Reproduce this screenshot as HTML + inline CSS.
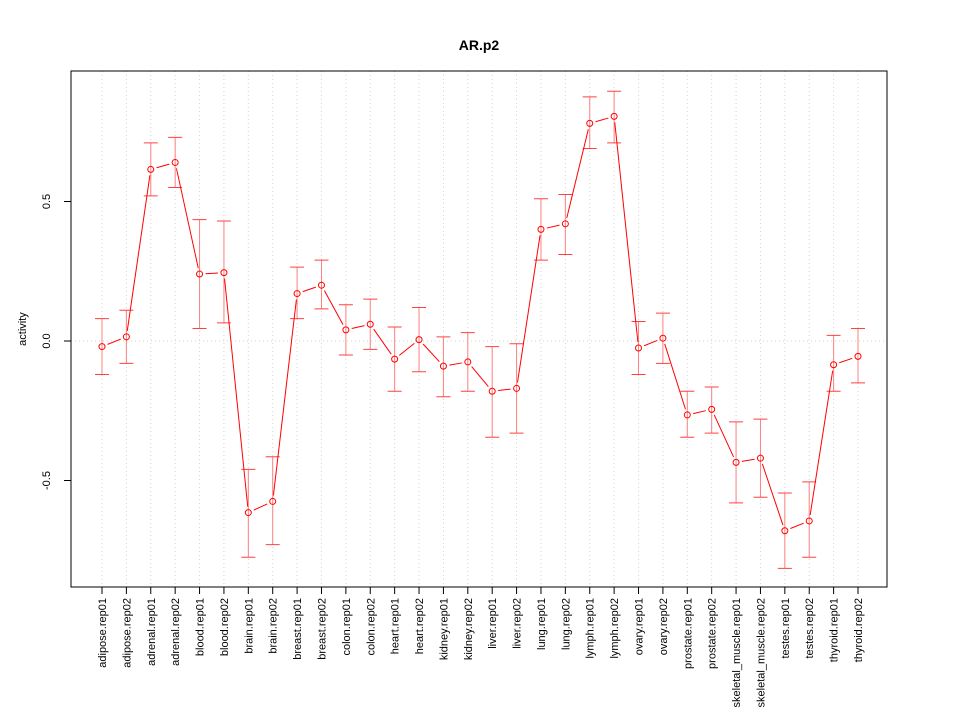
<!DOCTYPE html>
<html><head><meta charset="utf-8"><style>
body{margin:0;background:#fff;font-family:"Liberation Sans",sans-serif}
</style></head><body>
<svg id="chart" width="960" height="720" xmlns="http://www.w3.org/2000/svg">
<rect width="960" height="720" fill="#fff"/>
<text x="479" y="50" text-anchor="middle" font-size="14" font-weight="bold">AR.p2</text>
<text transform="translate(26,329) rotate(-90)" text-anchor="middle" font-size="11">activity</text>
<g id="grid"></g><g id="axes"></g><g id="marks"></g>
<rect x="71" y="71" width="816" height="516" fill="none" stroke="#000"/>
</svg>
<script>
const categories=["adipose.rep01","adipose.rep02","adrenal.rep01","adrenal.rep02","blood.rep01","blood.rep02","brain.rep01","brain.rep02","breast.rep01","breast.rep02","colon.rep01","colon.rep02","heart.rep01","heart.rep02","kidney.rep01","kidney.rep02","liver.rep01","liver.rep02","lung.rep01","lung.rep02","lymph.rep01","lymph.rep02","ovary.rep01","ovary.rep02","prostate.rep01","prostate.rep02","skeletal_muscle.rep01","skeletal_muscle.rep02","testes.rep01","testes.rep02","thyroid.rep01","thyroid.rep02"];
const values=[-0.02,0.015,0.615,0.64,0.24,0.245,-0.615,-0.575,0.17,0.2,0.04,0.06,-0.065,0.005,-0.09,-0.075,-0.18,-0.17,0.4,0.42,0.78,0.805,-0.025,0.01,-0.265,-0.245,-0.435,-0.42,-0.68,-0.645,-0.085,-0.055];
const upper=[0.08,0.11,0.71,0.73,0.435,0.43,-0.46,-0.415,0.265,0.29,0.13,0.15,0.05,0.12,0.015,0.03,-0.02,-0.01,0.51,0.525,0.875,0.895,0.07,0.1,-0.18,-0.165,-0.29,-0.28,-0.545,-0.505,0.02,0.045];
const lower=[-0.12,-0.08,0.52,0.55,0.045,0.065,-0.775,-0.73,0.08,0.115,-0.05,-0.03,-0.18,-0.11,-0.2,-0.18,-0.345,-0.33,0.29,0.31,0.69,0.71,-0.12,-0.08,-0.345,-0.33,-0.58,-0.56,-0.815,-0.775,-0.18,-0.15];
const yTicks=[-0.5,0.0,0.5];
const yTickLabels=["-0.5","0.0","0.5"];
const yGrid=[0.0];
const NS="http://www.w3.org/2000/svg";
const xs=i=>102+i*(858-102)/(categories.length-1);
const ys=v=>341-v*279;
function mk(tag,attrs,parent){const e=document.createElementNS(NS,tag);for(const k in attrs)e.setAttribute(k,attrs[k]);document.getElementById(parent).appendChild(e);return e;}
categories.forEach((c,i)=>{
  const g=mk("line",{x1:xs(i),x2:xs(i),y1:71,y2:587,stroke:"#d3d3d3","stroke-dasharray":"1,3"},"grid");
  
  
  const t=mk("line",{x1:xs(i),x2:xs(i),y1:587,y2:594,stroke:"#000"},"axes");
  
  
  const l=mk("text",{transform:`translate(${xs(i)+4},598) rotate(-90)`,"text-anchor":"end","font-size":"11"},"axes");
  l.textContent=c;
  
  
});
yGrid.forEach(v=>{
  const g=mk("line",{x1:71,x2:887,y1:ys(v),y2:ys(v),stroke:"#d3d3d3","stroke-dasharray":"1,3"},"grid");
  
  
});
yTicks.forEach((v,i)=>{
  const t=mk("line",{x1:64,x2:71,y1:ys(v),y2:ys(v),stroke:"#000"},"axes");
  
  
  const l=mk("text",{transform:`translate(50,${ys(v)}) rotate(-90)`,"text-anchor":"middle","font-size":"11"},"axes");
  l.textContent=yTickLabels[i];
  
  
});
values.forEach((v,i)=>{
  const e=mk("line",{x1:xs(i),x2:xs(i),y1:ys(upper[i]),y2:ys(lower[i]),stroke:"#ff8080"},"marks");
  
  
  const cap=mk("path",{d:`M${xs(i)-7},${ys(upper[i])}H${xs(i)+7}M${xs(i)-7},${ys(lower[i])}H${xs(i)+7}`,stroke:"#ff4040",fill:"none"},"marks");
  
  
});
for(let i=0;i<values.length-1;i++){
  const x1=xs(i),y1=ys(values[i]),x2=xs(i+1),y2=ys(values[i+1]);
  const d=Math.hypot(x2-x1,y2-y1),g=6;
  if(d<=2*g)continue;
  const ux=(x2-x1)/d,uy=(y2-y1)/d;
  const s=mk("line",{x1:x1+ux*g,y1:y1+uy*g,x2:x2-ux*g,y2:y2-uy*g,stroke:"#ff0000"},"marks");
  
  
}
values.forEach((v,i)=>{
  const c=mk("circle",{cx:xs(i),cy:ys(v),r:3,fill:"none",stroke:"#ff0000"},"marks");
  
  
});
</script>
</body></html>
